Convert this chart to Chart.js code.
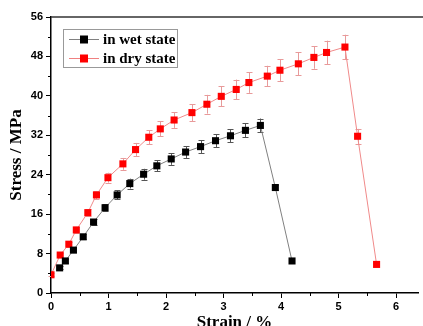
<!DOCTYPE html>
<html>
<head>
<meta charset="utf-8">
<script src="https://cdn.jsdelivr.net/npm/chart.js@4.4.1/dist/chart.umd.min.js"></script>
<style>
html,body{margin:0;padding:0;background:#fff;overflow:hidden;}
#wrap{width:423px;height:326px;position:relative;}
</style>
</head>
<body>
<div id="wrap"><canvas id="c" width="423" height="326"></canvas></div>
<script>
// ---- data ----
const wetStrain = [0.15,0.25,0.39,0.56,0.74,0.94,1.15,1.37,1.61,1.84,2.09,2.34,2.60,2.86,3.12,3.38,3.64,3.90,4.19];
const wetStress = [5.1,6.5,8.7,11.4,14.4,17.3,19.9,22.2,24.1,25.8,27.2,28.6,29.7,30.9,31.9,33.0,34.0,21.4,6.5];
const wetErr    = [0.3,0.4,0.4,0.5,0.6,0.7,0.9,1.0,1.1,1.1,1.2,1.2,1.3,1.3,1.3,1.4,1.4,0.6,0];

const dryStrain = [0.0,0.16,0.31,0.44,0.64,0.79,0.99,1.25,1.47,1.70,1.90,2.14,2.45,2.71,2.96,3.22,3.44,3.76,3.98,4.30,4.57,4.79,5.11,5.33,5.66];
const dryStress = [3.7,7.7,9.9,12.8,16.3,19.9,23.4,26.2,29.1,31.6,33.3,35.1,36.6,38.3,39.9,41.3,42.7,44.0,45.2,46.5,47.8,48.8,49.9,31.8,5.8];
const dryErr    = [0.3,0.4,0.5,0.6,0.7,0.8,1.0,1.2,1.35,1.4,1.5,1.6,1.7,1.9,2.0,2.0,2.1,2.1,2.2,2.3,2.3,2.4,2.5,1.5,0];

const xTicks = [0,1,2,3,4,5,6];
const yTicks = [0,8,16,24,32,40,48,56];
const seriesNames = ['in wet state','in dry state'];
const xTitle = 'Strain / %';
const yTitle = 'Stress / MPa';

const toPts = (xs, ys) => xs.map((x, i) => ({x: x, y: ys[i]}));

const errorBars = {
  id: 'errorBars',
  beforeDatasetsDraw(chart) {
    const ctx = chart.ctx;
    const xs = chart.scales.x, ys = chart.scales.y;
    chart.data.datasets.forEach(ds => {
      const errs = ds.errors;
      ctx.save();
      ctx.strokeStyle = ds.errColor;
      ctx.lineWidth = 1;
      ds.data.forEach((p, i) => {
        const e = errs[i];
        if (!e) return;
        const px = Math.round(xs.getPixelForValue(p.x)) + 0.5;
        const y1 = ys.getPixelForValue(p.y + e);
        const y2 = ys.getPixelForValue(p.y - e);
        ctx.beginPath();
        ctx.moveTo(px, y1); ctx.lineTo(px, y2);
        ctx.moveTo(px - 3, Math.round(y1) + 0.5); ctx.lineTo(px + 3, Math.round(y1) + 0.5);
        ctx.moveTo(px - 3, Math.round(y2) + 0.5); ctx.lineTo(px + 3, Math.round(y2) + 0.5);
        ctx.stroke();
      });
      ctx.restore();
    });
  }
};

const frame = {
  id: 'frame',
  afterDraw(chart) {
    const ctx = chart.ctx;
    const a = chart.chartArea;
    const xs = chart.scales.x, ys = chart.scales.y;
    ctx.save();
    // top border
    ctx.strokeStyle = '#333';
    ctx.lineWidth = 1.5;
    ctx.beginPath();
    ctx.moveTo(a.left, a.top); ctx.lineTo(423, a.top);
    ctx.stroke();
    // minor ticks
    ctx.strokeStyle = '#000';
    ctx.lineWidth = 1;
    ctx.beginPath();
    for (let i = 0; i < xTicks.length; i++) {
      const v = xTicks[i] + 0.5;
      if (v > xs.max) break;
      const px = Math.round(xs.getPixelForValue(v)) + 0.5;
      ctx.moveTo(px, a.bottom); ctx.lineTo(px, a.bottom + 3);
    }
    for (let i = 0; i < yTicks.length - 1; i++) {
      const v = yTicks[i] + 4;
      const py = Math.round(ys.getPixelForValue(v)) + 0.5;
      ctx.moveTo(a.left, py); ctx.lineTo(a.left - 3, py);
    }
    ctx.stroke();
    // legend
    const bx = 63, by = 29, bw = 114, bh = 38;
    ctx.strokeStyle = '#999';
    ctx.lineWidth = 1;
    ctx.strokeRect(bx + 0.5, by + 0.5, bw, bh);
    const rows = [
      {y: 39, line: '#808080', fill: '#000'},
      {y: 58, line: '#f08080', fill: '#ff0000'}
    ];
    rows.forEach((r, i) => {
      ctx.strokeStyle = r.line;
      ctx.beginPath();
      ctx.moveTo(69, r.y + 0.5); ctx.lineTo(99, r.y + 0.5);
      ctx.stroke();
      ctx.fillStyle = r.fill;
      ctx.fillRect(80, r.y - 3.5, 8, 8);
      ctx.fillStyle = '#000';
      ctx.font = 'bold 15px "Liberation Serif", "Times New Roman", serif';
      ctx.textBaseline = 'middle';
      ctx.textAlign = 'left';
      ctx.fillText(seriesNames[i], 103, r.y + 1);
    });
    ctx.restore();
  }
};

const tickFont = {family: '"Liberation Sans", Arial, sans-serif', weight: 'bold', size: 11};
const titleFont = {family: '"Liberation Serif", "Times New Roman", serif', weight: 'bold', size: 17};

new Chart(document.getElementById('c'), {
  type: 'scatter',
  data: {
    datasets: [
      {
        label: seriesNames[0],
        data: toPts(wetStrain, wetStress),
        errors: wetErr,
        errColor: '#555',
        showLine: true,
        borderColor: '#808080',
        borderWidth: 1,
        backgroundColor: '#000',
        pointBorderColor: '#000',
        pointBackgroundColor: '#000',
        pointStyle: 'rect',
        pointRadius: 5,
        pointBorderWidth: 0,
        tension: 0,
        clip: false
      },
      {
        label: seriesNames[1],
        data: toPts(dryStrain, dryStress),
        errors: dryErr,
        errColor: '#e89a9a',
        showLine: true,
        borderColor: '#f08a8a',
        borderWidth: 1,
        backgroundColor: '#ff0000',
        pointBorderColor: '#ff0000',
        pointBackgroundColor: '#ff0000',
        pointStyle: 'rect',
        pointRadius: 5,
        pointBorderWidth: 0,
        tension: 0,
        clip: {left: 0, top: false, right: false, bottom: false}
      }
    ]
  },
  options: {
    responsive: false,
    animation: false,
    layout: {padding: {top: 17, right: 0, left: 0, bottom: 0}},
    plugins: {legend: {display: false}, tooltip: {enabled: false}},
    scales: {
      x: {
        type: 'linear',
        min: 0,
        max: 6.38,
        afterBuildTicks: s => { s.ticks = xTicks.map(v => ({value: v})); },
        afterFit: s => { s.height = 33; },
        ticks: {font: tickFont, color: '#000', padding: 2, maxRotation: 0},
        grid: {drawOnChartArea: false, drawTicks: true, tickLength: 5, color: '#000'},
        border: {display: true, color: '#000', width: 1.5},
        title: {display: true, text: xTitle, font: titleFont, color: '#000', padding: {top: 0, bottom: -7}}
      },
      y: {
        type: 'linear',
        min: 0,
        max: 56,
        afterBuildTicks: s => { s.ticks = yTicks.map(v => ({value: v})); },
        afterFit: s => { s.width = 51; },
        ticks: {font: tickFont, color: '#000', padding: 3},
        grid: {drawOnChartArea: false, drawTicks: true, tickLength: 5, color: '#000'},
        border: {display: true, color: '#000', width: 1.5},
        title: {display: true, text: yTitle, font: titleFont, color: '#000', padding: {top: 6, bottom: 0}}
      }
    }
  },
  plugins: [errorBars, frame]
});
</script>
</body>
</html>
